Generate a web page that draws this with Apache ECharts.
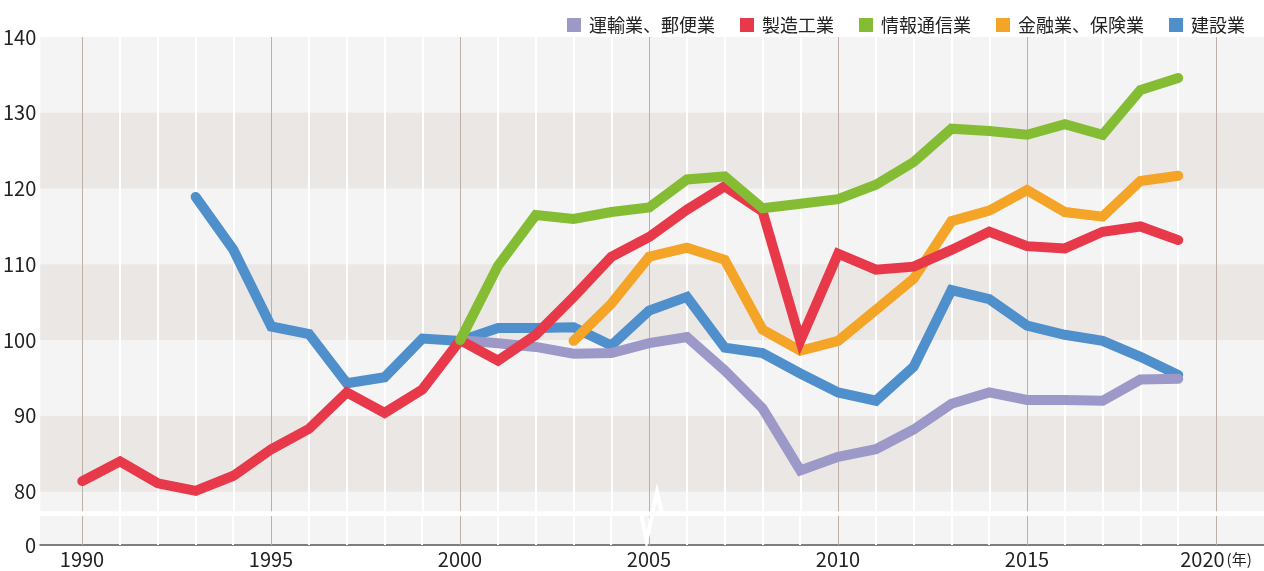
<!DOCTYPE html>
<html><head><meta charset="utf-8">
<script src="https://cdn.jsdelivr.net/npm/echarts@6/dist/echarts.min.js"></script>
<style>html,body{margin:0;padding:0;background:#fff}#c{width:1264px;height:571px}</style>
</head><body><div id="c"></div>
<script>
// ---- data ----
const years = [1990,1991,1992,1993,1994,1995,1996,1997,1998,1999,2000,2001,2002,2003,2004,2005,2006,2007,2008,2009,2010,2011,2012,2013,2014,2015,2016,2017,2018,2019];
const seriesNames = ['運輸業、郵便業','製造工業','情報通信業','金融業、保険業','建設業'];
const transport = [null,null,null,null,null,null,null,null,null,null,100,99.6,99.1,98.2,98.3,99.6,100.4,96.0,91.0,82.8,84.6,85.6,88.2,91.6,93.1,92.1,92.1,92.0,94.8,94.9];
const manufacturing = [81.4,84.0,81.1,80.1,82.1,85.6,88.3,93.1,90.4,93.5,100,97.3,100.7,105.7,111.0,113.6,117.2,120.3,117.0,99.9,111.4,109.3,109.7,111.9,114.3,112.4,112.1,114.3,115.0,113.2];
const infocomm = [null,null,null,null,null,null,null,null,null,null,100,109.8,116.5,116.0,116.9,117.5,121.2,121.6,117.4,118.0,118.6,120.5,123.5,127.9,127.6,127.1,128.5,127.1,133.0,134.6];
const finance = [null,null,null,null,null,null,null,null,null,null,null,null,null,99.9,104.8,111.0,112.2,110.6,101.4,98.6,99.9,104.0,108.1,115.7,117.1,119.8,116.9,116.3,121.0,121.7];
const construction = [null,null,null,118.9,111.9,101.8,100.8,94.3,95.1,100.2,99.9,101.6,101.6,101.7,99.3,103.9,105.7,99.0,98.3,95.6,93.1,92.0,96.5,106.6,105.4,101.9,100.7,99.9,97.8,95.4];
const yTickLabels = [80,90,100,110,120,130,140];
const yLowTickLabels = [0];
const xTickLabels = [1990,1995,2000,2005,2010,2015,2020];
const yearLines = [1990,1991,1992,1993,1994,1995,1996,1997,1998,1999,2000,2001,2002,2003,2004,2005,2006,2007,2008,2009,2010,2011,2012,2013,2014,2015,2016,2017,2018,2019,2020];
const bandRanges = [[80,90],[100,110],[120,130]];

// ---- styles ----
const colors = ['#9c98c8','#e8394b','#84bd34','#f4a427','#4e8fcc'];
const FONT = '"Noto Sans CJK JP", "Noto Sans", sans-serif';
const X_MIN = 1988.889, X_MAX = 2021.27;
const Y_MIN = 77.41, Y_MAX = 140;

function pairs(vals){ return years.map((y,i)=>[y, vals[i]]).filter(p=>p[1]!=null); }

function vLines(){
  return yearLines.map(y => ({
    xAxis: y,
    lineStyle: (y % 5 === 0) ? {color:'#bcb0a8', width:1, type:'solid'} : {color:'#ffffff', width:2, type:'solid'}
  }));
}

function dataSeries(name, vals, color, z){
  return {
    name, type:'line', data: pairs(vals), xAxisIndex:0, yAxisIndex:0,
    showSymbol:false, symbol:'none', color, z,
    lineStyle:{width:10, color, cap:'round', join:'miter'},
    emphasis:{disabled:true}, silent:true, animation:false
  };
}

const chart = echarts.init(document.getElementById('c'), null, {renderer:'canvas'});
const option = {
  animation:false,
  backgroundColor:'#ffffff',
  textStyle:{fontFamily:FONT},
  legend:{
    data: seriesNames,
    right: 14, top: 11,
    icon:'rect', itemWidth:14, itemHeight:14, itemGap:25,
    textStyle:{fontSize:18, color:'#222', fontFamily:FONT, padding:[0,0,0,3]},
    selectedMode:false
  },
  grid:[
    {left:40, right:0, top:37, height:474.3, show:true, backgroundColor:'#f4f4f4', borderWidth:0},
    {left:40, right:0, top:516, height:29, show:true, backgroundColor:'#f4f4f4', borderWidth:0}
  ],
  xAxis:[
    {type:'value', gridIndex:0, min:X_MIN, max:X_MAX, axisLine:{show:false}, axisTick:{show:false}, axisLabel:{show:false}, splitLine:{show:false}},
    {type:'value', gridIndex:1, min:X_MIN, max:X_MAX,
      axisLine:{show:true, onZero:false, lineStyle:{color:'#555', width:1.5}},
      axisTick:{show:false}, splitLine:{show:false},
      axisLabel:{show:true, customValues:xTickLabels, margin:4, fontSize:20, color:'#222', fontFamily:FONT,
        formatter:(v)=> v===2020 ? '{a|2020}{b|(年)}' : String(v),
        rich:{a:{fontSize:20, color:'#222', fontFamily:FONT}, b:{fontSize:15, color:'#222', fontFamily:FONT, padding:[0,0,0,2]}}
      }}
  ],
  yAxis:[
    {type:'value', gridIndex:0, min:Y_MIN, max:Y_MAX, axisLine:{show:false}, axisTick:{show:false}, splitLine:{show:false},
      axisLabel:{customValues:yTickLabels, margin:4, fontSize:20, color:'#222', fontFamily:FONT}},
    {type:'value', gridIndex:1, min:0, max:3.83, axisLine:{show:false}, axisTick:{show:false}, splitLine:{show:false},
      axisLabel:{customValues:yLowTickLabels, margin:4, fontSize:20, color:'#222', fontFamily:FONT}}
  ],
  series:[
    {type:'line', data:[], xAxisIndex:0, yAxisIndex:0, z:1, silent:true,
      markArea:{silent:true, z:1, itemStyle:{color:'#ebe7e4'}, label:{show:false},
        data: bandRanges.map(b=>[{yAxis:b[0]},{yAxis:b[1]}])}},
    {type:'line', data:[], xAxisIndex:0, yAxisIndex:0, z:2, silent:true,
      markLine:{silent:true, z:2, symbol:'none', label:{show:false}, animation:false, data:vLines()}},
    {type:'line', data:[], xAxisIndex:1, yAxisIndex:1, z:2, silent:true,
      markLine:{silent:true, z:2, symbol:'none', label:{show:false}, animation:false, data:vLines()}},
    dataSeries(seriesNames[4], construction, colors[4], 10),
    dataSeries(seriesNames[0], transport, colors[0], 11),
    dataSeries(seriesNames[3], finance, colors[3], 12),
    dataSeries(seriesNames[1], manufacturing, colors[1], 13),
    dataSeries(seriesNames[2], infocomm, colors[2], 14)
  ]
};
chart.setOption(option);

// axis-break zigzag decoration on the white gap line
const bx = chart.convertToPixel({xAxisIndex:1}, 2005);
const gapY = 513.7;
chart.setOption({
  graphic:[
    {type:'polyline', silent:true, z:100,
      shape:{points:[[bx-8, gapY],[bx-2.5, 541],[bx+8, 492],[bx+13, gapY]]},
      style:{stroke:'#ffffff', lineWidth:4, fill:null, lineJoin:'miter'}}
  ]
});
</script>
</body></html>
